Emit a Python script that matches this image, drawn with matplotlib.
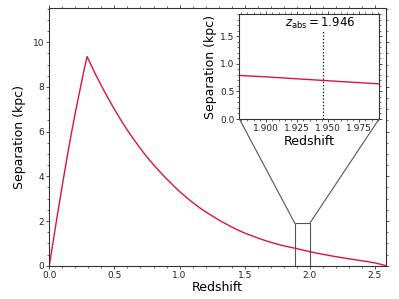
import matplotlib
matplotlib.use("Agg")
import matplotlib.pyplot as plt
from matplotlib.ticker import MultipleLocator, FormatStrFormatter
from matplotlib.patches import Rectangle, ConnectionPatch

# Data
redshift = [0.0, 0.03, 0.06, 0.09, 0.12, 0.15, 0.18, 0.21, 0.24, 0.27, 0.29,
            0.35, 0.40, 0.45, 0.50, 0.55, 0.60, 0.65, 0.70, 0.75, 0.80,
            0.85, 0.90, 0.95, 1.00, 1.05, 1.10, 1.15, 1.20, 1.25, 1.30,
            1.35, 1.40, 1.45, 1.50, 1.55, 1.60, 1.65, 1.70, 1.75, 1.80,
            1.85, 1.90, 1.946, 2.00, 2.05, 2.10, 2.15, 2.20, 2.25, 2.30,
            2.35, 2.40, 2.45, 2.50, 2.55, 2.585]
separation = [0.0, 1.1, 2.2, 3.25, 4.3, 5.3, 6.25, 7.15, 8.0, 8.85, 9.36,
              8.62, 8.05, 7.51, 7.00, 6.51, 6.06, 5.64, 5.24, 4.86, 4.52,
              4.20, 3.89, 3.60, 3.32, 3.07, 2.83, 2.61, 2.41, 2.23, 2.05,
              1.89, 1.73, 1.59, 1.46, 1.35, 1.24, 1.14, 1.05, 0.965, 0.89,
              0.825, 0.765, 0.70, 0.625, 0.565, 0.51, 0.455, 0.405, 0.355, 0.31,
              0.265, 0.22, 0.175, 0.125, 0.055, 0.0]
z_abs = 1.946
main_xlim = (0.0, 2.585)
main_ylim = (0.0, 11.53)
inset_xlim = (1.8785, 1.991)
inset_ylim = (0.0, 1.9)
zoom_box = (1.885, 2.0, 0.0, 1.9)

line_color = "#DC143C"
spine_color = "#333333"

fig = plt.figure(figsize=(3.99, 2.99), dpi=100)
ax = fig.add_axes([0.1236, 0.1114, 0.9674 - 0.1236, 0.973 - 0.1114])
axin = fig.add_axes([0.600, 0.602, 0.350, 0.350])


def style(a, xminor, yminor):
    for s in a.spines.values():
        s.set_color(spine_color)
        s.set_linewidth(0.8)
    a.tick_params(which="both", direction="out", top=True, right=True,
                  labelsize=6.5, colors=spine_color, labelcolor="#222222")
    a.tick_params(which="major", length=2.2, width=0.6, pad=1.5)
    a.tick_params(which="minor", length=1.3, width=0.5)
    a.xaxis.set_minor_locator(MultipleLocator(xminor))
    a.yaxis.set_minor_locator(MultipleLocator(yminor))


ax.plot(redshift, separation, color=line_color, lw=1.0)
ax.set_xlim(*main_xlim)
ax.set_ylim(*main_ylim)
ax.xaxis.set_major_locator(MultipleLocator(0.5))
ax.yaxis.set_major_locator(MultipleLocator(2))
style(ax, 0.1, 0.5)
ax.set_xlabel("Redshift", fontsize=9, labelpad=1)
ax.set_ylabel("Separation (kpc)", fontsize=9, labelpad=5)

axin.plot(redshift, separation, color=line_color, lw=1.0)
axin.set_xlim(*inset_xlim)
axin.set_ylim(*inset_ylim)
axin.xaxis.set_major_locator(MultipleLocator(0.025))
axin.yaxis.set_major_locator(MultipleLocator(0.5))
axin.xaxis.set_major_formatter(FormatStrFormatter("%.3f"))
style(axin, 0.005, 0.1)
axin.vlines(z_abs, 0, 1.6, colors="black", linestyles=":", lw=0.9)
axin.text(z_abs - 0.002, 1.67, r"$z_{\rm abs} = 1.946$", ha="center",
          va="baseline", fontsize=8.5)
axin.set_xlabel("Redshift", fontsize=9, labelpad=1)
axin.set_ylabel("Separation (kpc)", fontsize=9, labelpad=2)

x0, x1, y0, y1 = zoom_box
ax.add_patch(Rectangle((x0, y0), x1 - x0, y1 - y0, fill=False,
                       edgecolor="#555555", lw=0.8, zorder=3))
for xa, xb in ((x0, 0.0), (x1, 1.0)):
    con = ConnectionPatch(xyA=(xa, y1), coordsA=ax.transData,
                          xyB=(xb, 0.0), coordsB=axin.transAxes,
                          color="#555555", lw=0.8)
    fig.add_artist(con)

fig.savefig("out.png", dpi=100)
